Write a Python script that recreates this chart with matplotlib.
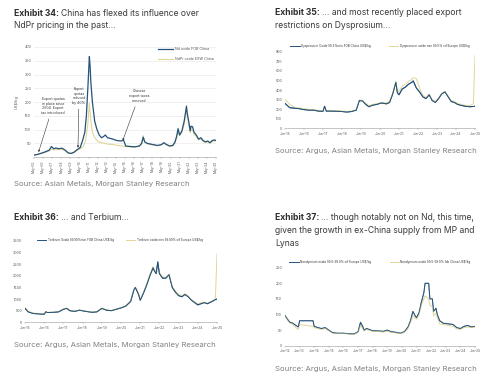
import pandas as pd
import matplotlib.pyplot as plt

plt.rcParams['font.family'] = ['Inter', 'DejaVu Sans']

W, H = 500, 387
BLUE = '#24527a'
YELLOW = '#e2d598'
TXT = '#3a3a3a'
GREY = '#808080'
AX = '#9a9a9a'

# ---- Exhibit 34: NdPr ----
nd_fob_dates = ['2005-05', '2005-09', '2006-03', '2006-09', '2007-01', '2007-04', '2007-07', '2007-10',
                '2008-01', '2008-06', '2008-10', '2009-02', '2009-06', '2009-10', '2010-02', '2010-06',
                '2010-09', '2010-12', '2011-02', '2011-04', '2011-06', '2011-07', '2011-08', '2011-10',
                '2012-01', '2012-04', '2012-07', '2012-10', '2013-01', '2013-03', '2013-06', '2013-09',
                '2014-01', '2014-06', '2014-12', '2015-03', '2015-06', '2016-01', '2016-06', '2016-12',
                '2017-03', '2017-05', '2017-07', '2017-10', '2018-01', '2018-06', '2018-12', '2019-05',
                '2019-08', '2019-12', '2020-04', '2020-08', '2020-11', '2021-01', '2021-03', '2021-05',
                '2021-08', '2021-11', '2022-02', '2022-03', '2022-05', '2022-07', '2022-08', '2022-10',
                '2022-12', '2023-03', '2023-06', '2023-09', '2023-12', '2024-03', '2024-06', '2024-09',
                '2024-12', '2025-03', '2025-05']
nd_fob = [7, 9, 14, 20, 25, 38, 30, 33,
          30, 32, 25, 15, 13, 18, 27, 35,
          60, 90, 150, 250, 365, 330, 270, 200,
          130, 100, 80, 70, 75, 80, 70, 68,
          65, 60, 58, 62, 40, 38, 37, 40,
          50, 72, 55, 50, 48, 45, 42, 45,
          52, 45, 40, 42, 55, 75, 103, 80,
          95, 130, 185, 160, 130, 95, 112, 110,
          90, 80, 65, 70, 60, 55, 58, 52,
          60, 62, 60]
ndpr_dates = ['2005-05', '2005-09', '2006-03', '2006-09', '2007-01', '2007-04', '2007-07', '2008-01',
              '2008-06', '2008-10', '2009-02', '2009-06', '2009-10', '2010-02', '2010-06', '2010-10',
              '2011-01', '2011-04', '2011-06', '2011-08', '2011-10', '2012-01', '2012-06', '2013-01',
              '2013-06', '2014-01', '2014-06', '2015-01', '2015-06', '2016-01', '2016-06', '2016-12',
              '2017-03', '2017-05', '2017-07', '2017-10', '2018-01', '2018-06', '2018-12', '2019-05',
              '2019-08', '2019-12', '2020-04', '2020-08', '2020-11', '2021-01', '2021-03', '2021-05',
              '2021-08', '2021-11', '2022-02', '2022-03', '2022-05', '2022-07', '2022-08', '2022-10',
              '2022-12', '2023-03', '2023-06', '2023-09', '2023-12', '2024-03', '2024-06', '2024-09',
              '2024-12', '2025-03', '2025-05']
ndpr_exw = [7, 9, 13, 18, 22, 30, 26, 27,
            28, 22, 14, 12, 16, 24, 30, 38,
            60, 120, 195, 130, 90, 70, 55, 50,
            47, 45, 43, 40, 38, 36, 36, 40,
            48, 78, 55, 48, 46, 44, 41, 44,
            50, 44, 39, 40, 52, 70, 92, 78,
            88, 120, 175, 150, 120, 88, 100, 98,
            82, 75, 62, 66, 57, 52, 55, 50,
            56, 58, 58]
x34_labels = ['May-%02d' % y for y in range(5, 26)]

# ---- Exhibit 35: Dysprosium ----
dy_dates = ['2015-06', '2015-09', '2015-12', '2016-03', '2016-06', '2016-09', '2016-12', '2017-03',
            '2017-06', '2017-07', '2017-08', '2017-12', '2018-03', '2018-06', '2018-09', '2018-12',
            '2019-03', '2019-05', '2019-07', '2019-09', '2019-11', '2020-01', '2020-04', '2020-07',
            '2020-10', '2020-12', '2021-02', '2021-04', '2021-05', '2021-06', '2021-08', '2021-10',
            '2021-12', '2022-02', '2022-03', '2022-05', '2022-07', '2022-09', '2022-11', '2023-01',
            '2023-03', '2023-05', '2023-07', '2023-09', '2023-11', '2024-01', '2024-03', '2024-05',
            '2024-07', '2024-09', '2024-12', '2025-03', '2025-05', '2025-06']
dy_fob_china = [260, 215, 210, 205, 195, 190, 190, 180,
                178, 230, 180, 180, 178, 175, 170, 175,
                190, 290, 285, 250, 225, 240, 250, 265,
                255, 270, 360, 480, 370, 350, 410, 430,
                460, 480, 495, 420, 380, 330, 310, 350,
                290, 270, 310, 360, 380, 330, 280, 270,
                250, 240, 230, 225, 228, 230]
dy_cif_europe = [300, 250, 220, 212, 205, 198, 195, 188,
                 185, 215, 188, 186, 183, 180, 176, 180,
                 195, 295, 290, 262, 235, 248, 258, 272,
                 265, 280, 370, 490, 400, 380, 440, 460,
                 490, 510, 530, 520, 420, 345, 320, 355,
                 300, 280, 315, 365, 385, 340, 290, 280,
                 260, 250, 240, 240, 255, 760]
x35_labels = ['Jun-%02d' % y for y in range(15, 26)]

# ---- Exhibit 36: Terbium ----
tb_dates = ['2015-06', '2015-08', '2015-11', '2016-03', '2016-06', '2016-07', '2016-08', '2016-12',
            '2017-03', '2017-06', '2017-08', '2017-10', '2018-01', '2018-04', '2018-08', '2018-12',
            '2019-03', '2019-06', '2019-09', '2019-12', '2020-03', '2020-06', '2020-09', '2020-12',
            '2021-02', '2021-03', '2021-05', '2021-06', '2021-08', '2021-10', '2021-12', '2022-02',
            '2022-03', '2022-04', '2022-05', '2022-06', '2022-08', '2022-10', '2022-12', '2023-02',
            '2023-04', '2023-06', '2023-08', '2023-10', '2023-12', '2024-02', '2024-04', '2024-06',
            '2024-08', '2024-10', '2024-12', '2025-03', '2025-05', '2025-06']
tb_fob_china = [600, 450, 380, 360, 350, 450, 420, 430,
                450, 560, 600, 500, 470, 520, 470, 430,
                450, 600, 520, 500, 560, 620, 700, 900,
                1400, 1500, 1200, 950, 1250, 1600, 2000, 2350,
                2200, 2100, 2600, 2100, 1900, 1900, 2050, 1500,
                1300, 1150, 1100, 1200, 1100, 950, 850, 750,
                800, 850, 800, 900, 980, 1000]
tb_cif_europe = [640, 480, 400, 380, 370, 420, 430, 440,
                 460, 570, 610, 520, 480, 530, 480, 440,
                 460, 610, 540, 510, 570, 630, 720, 920,
                 1420, 1520, 1250, 1000, 1280, 1650, 2050, 2400,
                 2250, 2150, 2200, 2150, 1950, 1950, 2080, 1550,
                 1350, 1200, 1150, 1230, 1130, 980, 880, 800,
                 840, 870, 830, 920, 1000, 2950]
x36_labels = ['Jun-%02d' % y for y in range(15, 26)]

# ---- Exhibit 37: Neodymium ----
nd_dates = ['2012-06', '2012-08', '2012-10', '2012-12', '2013-03', '2013-05', '2013-06', '2014-05',
            '2014-06', '2014-09', '2014-12', '2015-03', '2015-06', '2015-09', '2016-01', '2016-06',
            '2016-12', '2017-03', '2017-06', '2017-08', '2017-10', '2017-11', '2018-01', '2018-06',
            '2018-12', '2019-03', '2019-06', '2019-09', '2020-01', '2020-05', '2020-08', '2020-11',
            '2021-01', '2021-03', '2021-05', '2021-06', '2021-08', '2021-10', '2021-12', '2022-01',
            '2022-04', '2022-05', '2022-07', '2022-08', '2022-10', '2022-11', '2023-01', '2023-04',
            '2023-08', '2023-12', '2024-03', '2024-06', '2024-09', '2024-12', '2025-03', '2025-06']
nd_cif_europe = [97, 85, 75, 73, 65, 60, 80, 80,
                 62, 58, 55, 58, 50, 42, 40, 40,
                 38, 38, 45, 75, 60, 50, 55, 48,
                 47, 46, 50, 45, 43, 40, 45, 60,
                 80, 110, 95, 90, 105, 140, 170, 200,
                 200, 150, 150, 110, 120, 100, 80, 72,
                 70, 68, 58, 55, 62, 65, 60, 62]
nd_fob_china = [95, 82, 72, 70, 58, 52, 68, 62,
                58, 55, 52, 55, 48, 40, 39, 39,
                37, 37, 43, 65, 52, 47, 52, 46,
                45, 44, 47, 43, 41, 39, 43, 55,
                75, 95, 88, 85, 98, 130, 150, 160,
                150, 130, 125, 95, 105, 90, 70, 68,
                65, 62, 54, 52, 58, 60, 58, 60]
x37_labels = ['Jun-%02d' % y for y in range(12, 26)]


def box(l, t, r, b):
    return [l / W, 1 - b / H, (r - l) / W, (b - t) / H]


def fy(y):
    return 1 - y / H


fig = plt.figure(figsize=(5, 3.87), dpi=100)
renderer = fig.canvas.get_renderer()


def title(x, y, bold, lines, size=6.2, gap=12.8):
    t = fig.text(x / W, fy(y), bold, fontsize=size, fontweight='bold', color='#2e2e2e', va='baseline')
    w = t.get_window_extent(renderer).width
    fig.text((x + w + 2) / W, fy(y), lines[0], fontsize=size, color=TXT, va='baseline')
    for i, line in enumerate(lines[1:]):
        fig.text(x / W, fy(y + gap * (i + 1)), line, fontsize=size, color=TXT, va='baseline')


def source(x, y, text):
    fig.text(x / W, fy(y), text, fontsize=5.55, color=GREY, va='baseline')


def style_axes(ax, ylim, step, labels, start, grid=False, rot=0):
    ax.set_ylim(*ylim)
    ax.set_yticks(range(ylim[0], ylim[1] + 1, step))
    ax.tick_params(axis='y', length=0, labelsize=2.6, labelcolor='#555555', pad=2)
    ticks = pd.date_range(start, periods=len(labels), freq='12MS')
    ax.set_xticks(ticks)
    ax.set_xticklabels(labels, rotation=rot)
    ax.set_xlim(ticks[0], ticks[-1])
    ax.tick_params(axis='x', length=1.2, width=0.3, color=AX, labelsize=2.4,
                   labelcolor='#555555', pad=1.5)
    for s in ['top', 'right', 'left']:
        ax.spines[s].set_visible(False)
    ax.spines['bottom'].set_color(AX)
    ax.spines['bottom'].set_linewidth(0.4)
    if grid:
        ax.grid(axis='y', color='#e6e6e6', lw=0.4)
        ax.set_axisbelow(True)
    ax.patch.set_alpha(0)


# Exhibit 34
title(14, 15.5, 'Exhibit 34:', ['China has flexed its influence over', 'NdPr pricing in the past...'])
ax1 = fig.add_axes(box(34, 47, 216, 157))
ax1.plot(pd.to_datetime(ndpr_dates), ndpr_exw, color=YELLOW, lw=0.8, label='NdPr oxide EXW China')
ax1.plot(pd.to_datetime(nd_fob_dates), nd_fob, color=BLUE, lw=0.9, label='Nd oxide FOB China')
style_axes(ax1, (0, 400), 50, x34_labels, '2005-05-01', grid=True, rot=90)
ax1.set_yticklabels([''] + [str(v) for v in range(50, 401, 50)])
ax1.set_ylabel('US$/kg', fontsize=2.8, color='#555555', labelpad=4)
h, l = ax1.get_legend_handles_labels()
ax1.legend(h[::-1], l[::-1], loc='upper left', bbox_to_anchor=(155 / W, fy(44)),
           bbox_transform=fig.transFigure, frameon=False, fontsize=2.6, handlelength=4,
           handletextpad=0.6, labelspacing=1.6, labelcolor='#555555')
arrow = dict(arrowstyle='-|>', lw=0.4, color='#333333', mutation_scale=2.5, shrinkA=1, shrinkB=0)
ax1.annotate('Export quotas\nin place since\n2004. Export\ntax introduced',
             xy=(pd.Timestamp('2005-11-01'), 18), xytext=(53 / W, fy(106)),
             textcoords='figure fraction', ha='center', va='center', fontsize=2.5,
             color='#333333', arrowprops=arrow, linespacing=1.2)
ax1.annotate('Export\nquotas\nreduced\nby 40%',
             xy=(pd.Timestamp('2010-03-01'), 34), xytext=(79 / W, fy(96)),
             textcoords='figure fraction', ha='center', va='center', fontsize=2.5,
             color='#333333', arrowprops=arrow, linespacing=1.2)
ax1.annotate('Chinese\nexport taxes\nremoved',
             xy=(pd.Timestamp('2015-02-01'), 60), xytext=(139 / W, fy(96)),
             textcoords='figure fraction', ha='center', va='center', fontsize=2.5,
             color='#333333', arrowprops=arrow, linespacing=1.2)
source(14, 186, 'Source: Asian Metals, Morgan Stanley Research')

# Exhibit 35
title(275, 15, 'Exhibit 35:', ['... and most recently placed export', 'restrictions on Dysprosium...'])
ax2 = fig.add_axes(box(285, 51.7, 475, 128.3))
dd = pd.to_datetime(dy_dates)
ax2.plot(dd, dy_fob_china, color=BLUE, lw=0.7,
         label='Dysprosium Oxide 99.5%min FOB China US$/kg')
ax2.plot(dd, dy_cif_europe, color=YELLOW, lw=0.7,
         label='Dysprosium oxide min 99.5% cif Europe US$/kg')
ax2.plot(dd, dy_fob_china, color=BLUE, lw=0.7)
style_axes(ax2, (0, 800), 100, x35_labels, '2015-06-01')
ax2.legend(loc='center', bbox_to_anchor=(380 / W, fy(46)), bbox_transform=fig.transFigure,
           ncol=2, frameon=False, fontsize=2.2, handlelength=3, columnspacing=6,
           handletextpad=0.5, labelcolor='#333333')
source(275, 152.5, 'Source: Argus, Asian Metals, Morgan Stanley Research')

# Exhibit 36
title(14, 220.5, 'Exhibit 36:', ['... and Terbium...'])
ax3 = fig.add_axes(box(25, 241, 217, 322.3))
td = pd.to_datetime(tb_dates)
ax3.plot(td, tb_fob_china, color=BLUE, lw=0.7,
         label='Terbium Oxide 99.99%min FOB China US$/kg')
ax3.plot(td, tb_cif_europe, color=YELLOW, lw=0.7,
         label='Terbium oxide min 99.99% cif Europe US$/kg')
ax3.plot(td, tb_fob_china, color=BLUE, lw=0.7)
style_axes(ax3, (0, 3500), 500, x36_labels, '2015-06-01')
ax3.legend(loc='center', bbox_to_anchor=(120 / W, fy(240.5)), bbox_transform=fig.transFigure,
           ncol=2, frameon=False, fontsize=2.2, handlelength=3, columnspacing=4,
           handletextpad=0.5, labelcolor='#333333')
source(14, 347.5, 'Source: Argus, Asian Metals, Morgan Stanley Research')

# Exhibit 37
title(275, 220.5, 'Exhibit 37:', ['... though notably not on Nd, this time,',
                                  'given the growth in ex-China supply from MP and', 'Lynas'])
ax4 = fig.add_axes(box(285, 267.7, 475, 345.7))
ndd = pd.to_datetime(nd_dates)
ax4.plot(ndd, nd_cif_europe, color=BLUE, lw=0.7,
         label='Neodymium oxide 99.5-99.9% cif Europe US$/kg')
ax4.plot(ndd, nd_fob_china, color=YELLOW, lw=0.7,
         label='Neodymium oxide 99.5-99.9% fob China US$/kg')
ax4.plot(ndd, nd_cif_europe, color=BLUE, lw=0.7, alpha=0.6)
style_axes(ax4, (0, 250), 50, x37_labels, '2012-06-01')
ax4.legend(loc='center', bbox_to_anchor=(380 / W, fy(262)), bbox_transform=fig.transFigure,
           ncol=2, frameon=False, fontsize=2.2, handlelength=3, columnspacing=6,
           handletextpad=0.5, labelcolor='#333333')
source(275, 370.5, 'Source: Argus, Asian Metals, Morgan Stanley Research')

fig.savefig('out.png', dpi=100)
